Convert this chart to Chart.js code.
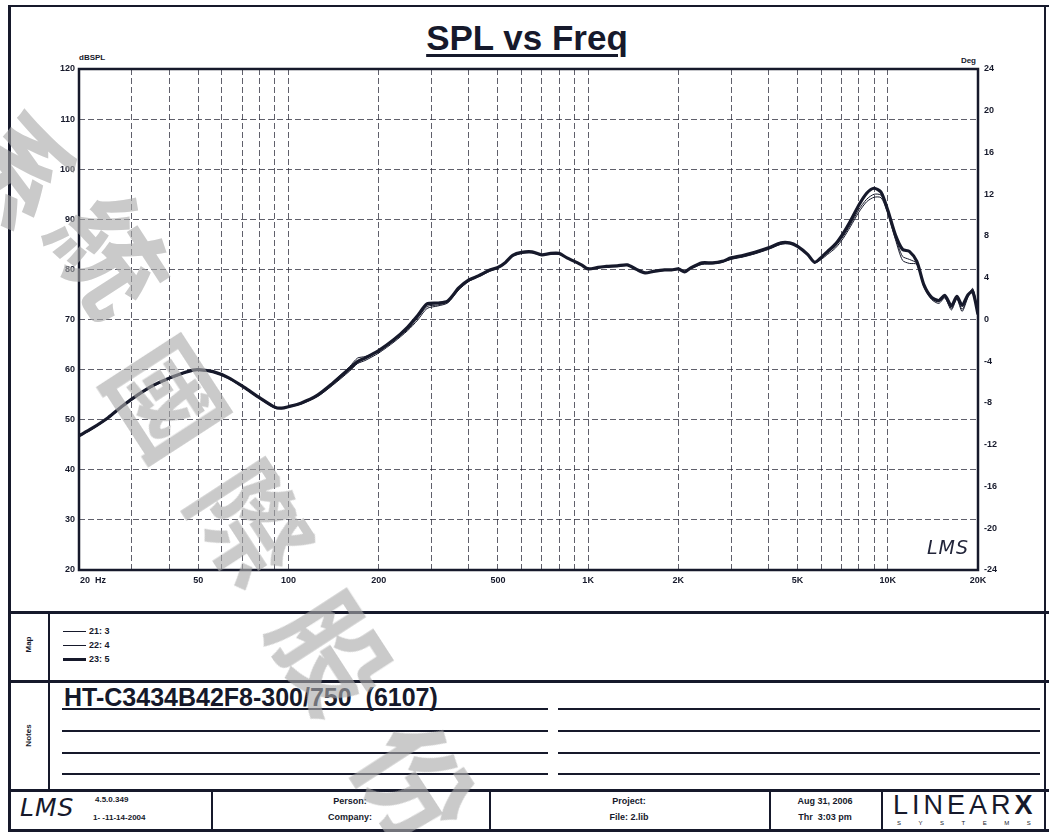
<!DOCTYPE html>
<html><head><meta charset="utf-8">
<script src="https://cdn.jsdelivr.net/npm/chart.js@4.4.1/dist/chart.umd.min.js"></script>
<style>
html,body{margin:0;padding:0;background:#fff}
body{width:1049px;height:832px;overflow:hidden;position:relative;font-family:"Liberation Sans",Arial,sans-serif;color:#16192b}
.a{position:absolute;white-space:nowrap}
.ln{position:absolute;background:#16192b}
.nar{font-family:"Liberation Sans Narrow","Liberation Sans",Arial,sans-serif;font-weight:bold}
.wm{position:absolute;font-family:"Noto Sans CJK TC","Noto Sans CJK SC",sans-serif;font-weight:bold;font-size:112px;line-height:112px;color:rgba(170,170,170,0.62);transform-origin:center center;pointer-events:none}
</style></head><body>

<!-- page frame -->
<div class="ln" style="left:8px;top:5px;width:1041px;height:2px"></div>
<div class="ln" style="left:8px;top:5px;width:3px;height:827px"></div>
<div class="ln" style="left:1044px;top:5px;width:2px;height:827px"></div>

<!-- title -->
<div class="a" style="left:277px;top:20px;width:500px;text-align:center;font-weight:bold;font-size:35px;line-height:35px;text-decoration:underline;text-decoration-thickness:3px;text-underline-offset:4px">SPL vs Freq</div>
<div class="a" style="left:79px;top:53px;font-weight:bold;font-size:8px">dBSPL</div>
<div class="a" style="left:940px;top:56px;width:36px;text-align:right;font-weight:bold;font-size:8px">Deg</div>

<canvas id="c" width="970" height="555" style="position:absolute;left:40px;top:45px"></canvas>
<div class="a" style="left:927px;top:536px;font-family:'DejaVu Sans',sans-serif;font-style:italic;font-size:19px;color:#22253a;letter-spacing:1px">LMS</div>

<!-- separators -->
<div class="ln" style="left:8px;top:611px;width:1041px;height:3px"></div>
<div class="ln" style="left:8px;top:680px;width:1041px;height:3px"></div>
<div class="ln" style="left:8px;top:789px;width:1041px;height:3px"></div>
<div class="ln" style="left:8px;top:829px;width:1041px;height:3px"></div>
<div class="ln" style="left:48px;top:612px;width:2px;height:178px"></div>

<div class="a nar" style="left:10px;top:640px;width:36px;text-align:center;font-size:8px;transform:rotate(-90deg)">Map</div>
<div class="a nar" style="left:6px;top:731px;width:44px;text-align:center;font-size:8px;transform:rotate(-90deg)">Notes</div>

<div id="legend"></div>

<!-- notes -->
<div class="a" style="left:64px;top:685px;font-weight:bold;font-size:25px;line-height:25px">HT-C3434B42F8-300/750&nbsp;&nbsp;(6107)</div>
<div class="ln" style="left:62px;top:708px;width:486px;height:1.5px"></div>
<div class="ln" style="left:558px;top:708px;width:482px;height:1.5px"></div>
<div class="ln" style="left:62px;top:730px;width:486px;height:1.5px"></div>
<div class="ln" style="left:558px;top:730px;width:482px;height:1.5px"></div>
<div class="ln" style="left:62px;top:752px;width:486px;height:1.5px"></div>
<div class="ln" style="left:558px;top:752px;width:482px;height:1.5px"></div>
<div class="ln" style="left:62px;top:773px;width:486px;height:1.5px"></div>
<div class="ln" style="left:558px;top:773px;width:482px;height:1.5px"></div>

<!-- footer -->
<div class="ln" style="left:211px;top:790px;width:2px;height:40px"></div>
<div class="ln" style="left:489px;top:790px;width:2px;height:40px"></div>
<div class="ln" style="left:769px;top:790px;width:2px;height:40px"></div>
<div class="ln" style="left:881px;top:790px;width:2px;height:40px"></div>
<div class="a" style="left:20px;top:793px;font-family:'DejaVu Sans',sans-serif;font-style:italic;font-size:25px;line-height:30px;letter-spacing:1px">LMS</div>
<div class="a nar" style="left:95px;top:795px;font-size:8px">4.5.0.349</div>
<div class="a nar" style="left:93px;top:813px;font-size:8px">1- -11-14-2004</div>
<div class="a nar" style="left:211px;top:796px;width:278px;text-align:center;font-size:9px">Person:</div>
<div class="a nar" style="left:211px;top:812px;width:278px;text-align:center;font-size:9px">Company:</div>
<div class="a nar" style="left:489px;top:796px;width:280px;text-align:center;font-size:9px">Project:</div>
<div class="a nar" style="left:489px;top:812px;width:280px;text-align:center;font-size:9px">File: 2.lib</div>
<div class="a nar" style="left:769px;top:796px;width:112px;text-align:center;font-size:9px">Aug 31, 2006</div>
<div class="a nar" style="left:769px;top:812px;width:112px;text-align:center;font-size:9px">Thr&nbsp;&nbsp;3:03 pm</div>
<div class="a" style="left:893px;top:791px;font-size:27px;line-height:28px;letter-spacing:4px;font-weight:normal">LINEAR<b>X</b></div>
<div class="a" style="left:897px;top:820px;font-size:6px;letter-spacing:17.5px">SYSTEMS</div>

<!-- watermark -->
<div id="wm"></div>

<script>
// ---------------- data ----------------
const freqHz = [20,22,25,28,31.5,35.5,40,45,48,50,56,63,71,80,90,95,100,110,125,140,160,170,180,200,225,250,270,290,315,340,370,400,430,470,500,530,560,600,650,700,750,800,850,900,950,1000,1080,1150,1250,1350,1450,1550,1650,1800,1900,2000,2100,2200,2400,2600,2800,3000,3300,3600,4000,4400,4700,5000,5400,5700,6000,6300,6700,7100,7500,8000,8500,9000,9500,10000,10600,11200,11800,12500,13200,14000,14800,15500,16300,17000,17700,18500,19200,20000];

const spl_21_3 = [46.6,48.0,50.2,52.6,54.8,56.7,58.1,59.3,59.8,59.9,59.5,58.2,56.3,54.2,52.3,52.2,52.5,53.1,54.6,56.8,59.7,61.2,61.8,63.3,65.5,67.8,69.9,72.2,72.7,73.3,75.9,77.6,78.5,79.6,80.2,81.2,82.6,83.2,83.3,82.8,83.0,83.0,82.2,81.5,80.8,80.0,80.3,80.5,80.6,80.8,79.9,79.2,79.5,79.8,79.8,80.0,79.4,80.1,81.0,81.1,81.4,82.0,82.5,83.1,84.0,85.0,85.1,84.5,82.9,81.3,82.0,83.0,84.3,86.2,88.5,91.4,93.5,94.4,94.3,91.2,86.0,81.8,81.2,81.0,76.5,74.0,73.2,74.3,71.9,74.1,71.6,74.4,76.2,71.5];

const spl_22_4 = [46.7,48.1,50.3,52.7,54.9,56.8,58.2,59.3,59.8,59.9,59.5,58.3,56.4,54.3,52.4,52.3,52.6,53.2,54.8,57.4,60.6,62.3,62.6,63.6,65.8,68.0,70.3,72.6,72.9,73.5,76.1,77.8,78.6,79.8,80.3,81.3,82.7,83.3,83.4,82.9,83.1,83.1,82.3,81.6,80.9,80.1,80.4,80.6,80.7,80.9,80.0,79.3,79.6,79.9,79.9,80.1,79.5,80.2,81.1,81.2,81.5,82.1,82.6,83.2,84.1,85.1,85.2,84.6,83.0,81.5,82.3,83.3,84.7,86.6,88.9,91.9,94.0,95.0,94.8,91.5,86.4,82.6,82.0,81.2,76.7,74.2,73.5,74.5,72.2,74.3,72.0,74.6,76.0,71.3];

const spl_23_5 = [46.8,48.2,50.4,52.8,55.0,56.9,58.3,59.4,59.9,60.0,59.6,58.4,56.5,54.4,52.5,52.3,52.6,53.3,54.9,57.2,60.2,61.6,62.3,63.8,66.0,68.5,70.8,73.1,73.3,73.7,76.3,77.9,78.7,79.9,80.4,81.4,82.8,83.4,83.5,82.9,83.2,83.2,82.3,81.6,80.9,80.1,80.4,80.6,80.7,80.9,80.0,79.3,79.6,79.9,79.9,80.1,79.5,80.3,81.3,81.3,81.6,82.3,82.8,83.4,84.3,85.3,85.3,84.6,83.0,81.4,82.4,83.6,85.1,87.2,89.6,92.8,95.2,96.2,95.4,91.8,86.9,84.0,83.6,81.6,76.9,74.4,73.8,74.8,72.7,74.6,72.8,74.9,75.6,71.0];

const seriesNames = ['21: 3','22: 4','23: 5'];
const xLabelValues = [20,50,100,200,500,1000,2000,5000,10000,20000];
const xLabelTexts = ['20  Hz','50','100','200','500','1K','2K','5K','10K','20K'];
const gridFreqs = [20,30,40,50,60,70,80,90,100,200,300,400,500,600,700,800,900,1000,2000,3000,4000,5000,6000,7000,8000,9000,10000,20000];
const splMin = 20, splMax = 120, splStep = 10;
const degMin = -24, degMax = 24, degStep = 4;
const watermarkChars = ['系','統','國','際','股','份'];

// ---------------- drawing ----------------
const INK = '#16192b';
const GRID = 'rgba(35,35,50,0.72)';
const toPts = arr => arr.map((v,i)=>({x:freqHz[i], y:v}));

const framePlugin = {
  id:'frame',
  afterDraw(chart){
    const {ctx, chartArea:a, scales:{x}} = chart;
    ctx.save();
    ctx.strokeStyle = INK; ctx.lineWidth = 2.5;
    ctx.strokeRect(a.left, a.top, a.right-a.left, a.bottom-a.top);
    ctx.fillStyle = INK;
    ctx.font = 'bold 9px "Liberation Sans", Arial, sans-serif';
    ctx.textBaseline = 'middle';
    xLabelValues.forEach((v,i)=>{
      const px = x.getPixelForValue(v);
      if(i===0){ctx.textAlign='left'; ctx.fillText(xLabelTexts[i], px+1, a.bottom+11);}
      else {ctx.textAlign='center'; ctx.fillText(xLabelTexts[i], px, a.bottom+11);}
    });
    ctx.restore();
  }
};

const widths = [1, 1, 3.2];
new Chart(document.getElementById('c'), {
  type:'line',
  data:{datasets:[spl_21_3, spl_22_4, spl_23_5].map((arr,i)=>({
    label: seriesNames[i], data: toPts(arr), borderColor: INK, borderWidth: widths[i],
    pointRadius:0, tension:0.25, fill:false, order: i===2 ? 2 : 1
  }))},
  options:{
    responsive:false, animation:false, devicePixelRatio:1, events:[],
    layout:{padding:{top:24,left:0,right:0,bottom:0}},
    plugins:{legend:{display:false}, tooltip:{enabled:false}},
    scales:{
      x:{type:'logarithmic', min:20, max:20000,
         afterBuildTicks(s){ s.ticks = gridFreqs.map(v=>({value:v})); },
         ticks:{display:false},
         grid:{color:GRID, lineWidth:1, drawTicks:false},
         border:{display:false, dash:[6,3]},
         afterFit(s){ s.height = 30; }},
      y:{position:'left', min:splMin, max:splMax,
         ticks:{stepSize:splStep, padding:4, color:INK, font:{family:'"Liberation Sans", Arial, sans-serif', size:9, weight:'bold'}},
         grid:{color:GRID, lineWidth:1, drawTicks:false},
         border:{display:false, dash:[6,3]},
         afterFit(s){ s.width = 39; }},
      y2:{position:'right', min:degMin, max:degMax,
         ticks:{stepSize:degStep, padding:6, color:INK, font:{family:'"Liberation Sans", Arial, sans-serif', size:9, weight:'bold'}},
         grid:{drawOnChartArea:false, drawTicks:false},
         border:{display:false},
         afterFit(s){ s.width = 32; }}
    }
  },
  plugins:[framePlugin]
});

// legend (Map box)
const lg = document.getElementById('legend');
const rowsY = [631, 645, 659];
seriesNames.forEach((n,i)=>{
  const l = document.createElement('div');
  l.className='ln'; l.style.left='63px'; l.style.width='23px';
  l.style.height = widths[i] > 2 ? '3px' : '1px';
  l.style.top = (rowsY[i] - (widths[i] > 2 ? 1.5 : 0.5)) + 'px';
  lg.appendChild(l);
  const t = document.createElement('div');
  t.className='a nar'; t.style.left='89px'; t.style.top=(rowsY[i]-6)+'px';
  t.style.fontSize='9px'; t.style.lineHeight='12px'; t.textContent = n;
  lg.appendChild(t);
});

// watermark
const wmPos = [[25,165],[115,252],[172,395],[256,520],[336,650],[420,780]];
const wm = document.getElementById('wm');
watermarkChars.forEach((ch,i)=>{
  const d = document.createElement('div');
  d.className='wm'; d.textContent = ch;
  d.style.left = (wmPos[i][0]-56)+'px'; d.style.top = (wmPos[i][1]-56)+'px';
  d.style.transform = 'rotate(57deg)';
  wm.appendChild(d);
});
</script>
</body></html>
